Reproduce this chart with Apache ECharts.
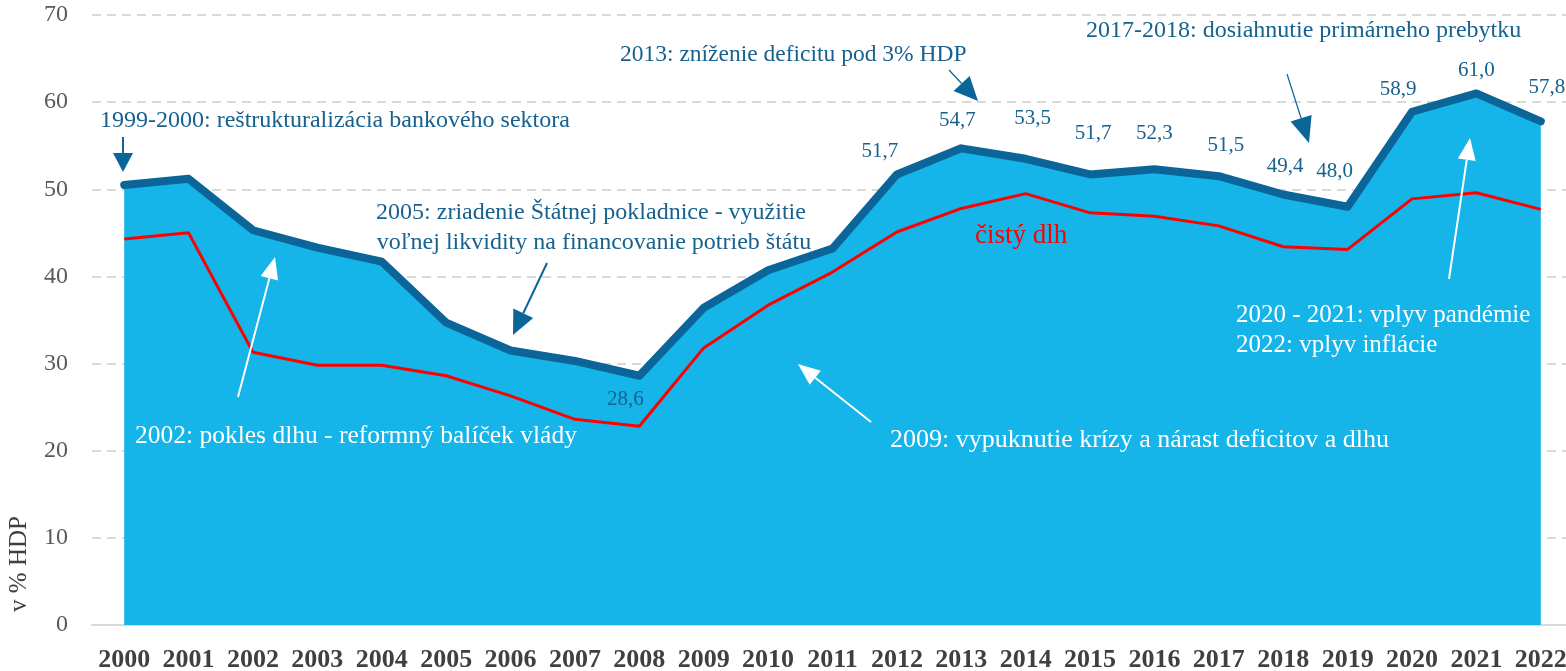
<!DOCTYPE html>
<html>
<head>
<meta charset="utf-8">
<title>Hrubý a čistý dlh verejnej správy</title>
<script src="https://cdn.jsdelivr.net/npm/echarts@6/dist/echarts.min.js"></script>
<style>
  html, body { margin: 0; padding: 0; background: #fff; }
  #chart { width: 1566px; height: 671px; }
</style>
</head>
<body>
<div id="chart"></div>
<script>
// roky
const years = ['2000', '2001', '2002', '2003', '2004', '2005', '2006', '2007', '2008', '2009', '2010', '2011',
  '2012', '2013', '2014', '2015', '2016', '2017', '2018', '2019', '2020', '2021', '2022'];
// hrubý dlh, v % HDP
const grossDebt = [50.5, 51.2, 45.3, 43.3, 41.7, 34.7, 31.5, 30.3, 28.6, 36.4, 40.7, 43.2,
  51.7, 54.7, 53.5, 51.7, 52.3, 51.5, 49.4, 48.0, 58.9, 61.0, 57.8];
// čistý dlh, v % HDP
const netDebt = [44.3, 45.0, 31.3, 29.8, 29.8, 28.6, 26.3, 23.6, 22.8, 31.8, 36.7, 40.5,
  45.1, 47.8, 49.5, 47.3, 46.9, 45.8, 43.4, 43.1, 48.9, 49.6, 47.7];
// os y
const yMin = 0;
const yMax = 70;
const yStep = 10;
// roky, pri ktorých je popisok hodnoty
const labelYears = ['2008', '2012', '2013', '2014', '2015', '2016', '2017', '2018', '2019', '2020', '2021', '2022'];

// posun popiskov (px) voči bodu
const labelOffset = {
  '2008': [-14, 24], '2012': [-17, -23], '2013': [-4, -28], '2014': [7, -40],
  '2015': [3, -41], '2016': [0, -36], '2017': [7, -31], '2018': [2, -28],
  '2019': [-13, -35], '2020': [-14, -22], '2021': [0, -23], '2022': [6, -34]
};

const DARK = '#0b6598';
const TEXT_BLUE = '#17618f';
const AREA = '#15b4e9';
const FONT = '"Liberation Serif", "DejaVu Serif", serif';

// poznámky v grafe
const notes = [
  { text: '1999-2000: reštrukturalizácia bankového sektora', x: 100, y: 121, color: TEXT_BLUE, size: 24 },
  { text: '2013: zníženie deficitu pod 3% HDP', x: 620, y: 55, color: TEXT_BLUE, size: 23.5 },
  { text: '2017-2018: dosiahnutie primárneho prebytku', x: 1086, y: 31, color: TEXT_BLUE, size: 24 },
  { text: '2005: zriadenie Štátnej pokladnice - využitie', x: 591, y: 213, color: TEXT_BLUE, align: 'center', size: 24 },
  { text: 'voľnej likvidity na financovanie potrieb štátu', x: 594, y: 243, color: TEXT_BLUE, align: 'center', size: 24 },
  { text: 'čistý dlh', x: 975, y: 236, color: '#ff0000', size: 27 },
  { text: '2002: pokles dlhu - reformný balíček vlády', x: 135, y: 436, color: '#fff', size: 25.5 },
  { text: '2009: vypuknutie krízy a nárast deficitov a dlhu', x: 890, y: 440, color: '#fff', size: 26 },
  { text: '2020 - 2021: vplyv pandémie', x: 1236, y: 315, color: '#fff', size: 25 },
  { text: '2022: vplyv inflácie', x: 1236, y: 345, color: '#fff', size: 25 }
];

// šípky: odkiaľ, kam
const arrows = [
  { from: [123, 137], to: [123, 172], color: DARK, width: 2, len: 19, hw: 10 },
  { from: [949, 70], to: [978, 101], color: DARK, width: 1.2, len: 24, hw: 11 },
  { from: [1287, 74], to: [1309, 143], color: DARK, width: 1.2, len: 26, hw: 11 },
  { from: [547, 263], to: [513, 335], color: DARK, width: 2, len: 24, hw: 11 },
  { from: [238, 397], to: [275, 257], color: '#fff', width: 2, len: 22, hw: 9 },
  { from: [871, 422], to: [798, 364], color: '#fff', width: 2, len: 22, hw: 9 },
  { from: [1449, 279], to: [1470, 138], color: '#fff', width: 2, len: 22, hw: 9 }
];

const fmt = (v) => v.toFixed(1).replace('.', ',');

const buildArrow = (a) => {
  const dx = a.to[0] - a.from[0];
  const dy = a.to[1] - a.from[1];
  const d = Math.sqrt(dx * dx + dy * dy);
  const ux = dx / d, uy = dy / d;
  const bx = a.to[0] - ux * a.len, by = a.to[1] - uy * a.len;
  return [
    { type: 'line', z: 100, shape: { x1: a.from[0], y1: a.from[1], x2: bx, y2: by },
      style: { stroke: a.color, lineWidth: a.width } },
    { type: 'polygon', z: 100, shape: { points: [a.to, [bx - uy * a.hw, by + ux * a.hw], [bx + uy * a.hw, by - ux * a.hw]] },
      style: { fill: a.color } }
  ];
};

const graphics = [];
notes.forEach((n) => {
  graphics.push({
    type: 'text', z: 100, x: n.x, y: n.y,
    style: {
      text: n.text, fill: n.color, font: n.size + 'px ' + FONT,
      textAlign: n.align || 'left', textVerticalAlign: 'middle'
    }
  });
});
arrows.forEach((a) => graphics.push(...buildArrow(a)));
// názov osi y
graphics.push({
  type: 'text', z: 100, x: 19, y: 564, rotation: Math.PI / 2,
  style: { text: 'v % HDP', fill: '#404040', font: '25px ' + FONT, textAlign: 'center', textVerticalAlign: 'middle' }
});

const grossData = grossDebt.map((v, i) => {
  const y = years[i];
  if (!labelYears.includes(y)) return v;
  return { value: v, label: { show: true, offset: labelOffset[y] || [0, -25] } };
});

const chart = echarts.init(document.getElementById('chart'));
chart.setOption({
  animation: false,
  grid: { left: 92, right: -7, top: 15, bottom: 46, outerBoundsMode: 'none' },
  xAxis: {
    type: 'category',
    data: years,
    axisLine: { lineStyle: { color: '#d9d9d9', width: 2 } },
    axisTick: { length: 8, lineStyle: { color: '#d9d9d9', width: 2 } },
    axisLabel: { color: '#404040', fontFamily: FONT, fontWeight: 'bold', fontSize: 26, margin: 22, interval: 0 }
  },
  yAxis: {
    type: 'value',
    min: yMin, max: yMax, interval: yStep,
    axisLine: { show: false },
    axisTick: { show: false },
    axisLabel: { color: '#595959', fontFamily: FONT, fontSize: 24, margin: 24 },
    splitLine: { lineStyle: { color: '#d9d9d9', width: 2, type: [9, 6] } }
  },
  series: [
    {
      name: 'hrubý dlh',
      type: 'line',
      data: grossData,
      symbol: 'circle',
      symbolSize: 2,
      itemStyle: { color: DARK },
      lineStyle: { color: DARK, width: 8, cap: 'round', join: 'round' },
      areaStyle: { color: AREA, opacity: 1 },
      label: {
        show: false, position: 'inside', color: TEXT_BLUE,
        fontFamily: FONT, fontSize: 21, formatter: (p) => fmt(p.value)
      },
      z: 2
    },
    {
      name: 'čistý dlh',
      type: 'line',
      data: netDebt,
      showSymbol: false,
      lineStyle: { color: '#ff0000', width: 3 },
      z: 3
    }
  ],
  graphic: graphics
});
</script>
</body>
</html>
